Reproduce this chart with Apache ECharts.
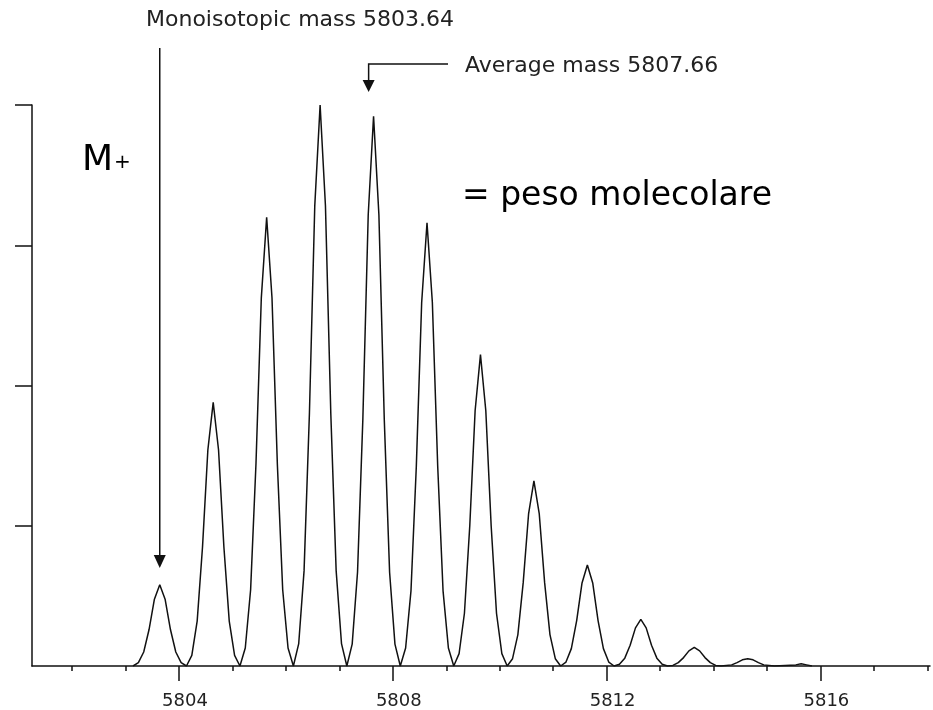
<!DOCTYPE html>
<html>
<head>
<meta charset="utf-8">
<script src="https://cdn.jsdelivr.net/npm/echarts@6/dist/echarts.min.js"></script>
<style>
  html, body { margin: 0; padding: 0; background: #fff; }
  #chart { width: 933px; height: 710px; }
</style>
</head>
<body>
<div id="chart"></div>
<script>
// isotope profile, [m/z, relative intensity %], one peak per line
const spectrum = [
  [5803.14, 0], [5803.24, 0.6], [5803.34, 2.5], [5803.44, 6.5], [5803.54, 11.9], [5803.64, 14.5], [5803.74, 11.9], [5803.84, 6.5], [5803.94, 2.5], [5804.04, 0.6],
  [5804.14, 0], [5804.24, 1.9], [5804.34, 8.0], [5804.44, 21.2], [5804.54, 38.5], [5804.64, 47], [5804.74, 38.5], [5804.84, 21.2], [5804.94, 8.0], [5805.04, 1.9],
  [5805.14, 0], [5805.24, 3.2], [5805.34, 13.6], [5805.44, 36], [5805.54, 65.6], [5805.64, 80], [5805.74, 65.6], [5805.84, 36], [5805.94, 13.6], [5806.04, 3.2],
  [5806.14, 0], [5806.24, 4], [5806.34, 17], [5806.44, 45], [5806.54, 82], [5806.64, 100], [5806.74, 82], [5806.84, 45], [5806.94, 17], [5807.04, 4],
  [5807.14, 0], [5807.24, 3.9], [5807.34, 16.7], [5807.44, 44.1], [5807.54, 80.4], [5807.64, 98], [5807.74, 80.4], [5807.84, 44.1], [5807.94, 16.7], [5808.04, 3.9],
  [5808.14, 0], [5808.24, 3.2], [5808.34, 13.4], [5808.44, 35.6], [5808.54, 64.8], [5808.64, 79], [5808.74, 64.8], [5808.84, 35.6], [5808.94, 13.4], [5809.04, 3.2],
  [5809.14, 0], [5809.24, 2.2], [5809.34, 9.4], [5809.44, 25], [5809.54, 45.5], [5809.64, 55.5], [5809.74, 45.5], [5809.84, 25], [5809.94, 9.4], [5810.04, 2.2],
  [5810.14, 0], [5810.24, 1.3], [5810.34, 5.6], [5810.44, 14.9], [5810.54, 27.1], [5810.64, 33], [5810.74, 27.1], [5810.84, 14.9], [5810.94, 5.6], [5811.04, 1.3],
  [5811.14, 0], [5811.24, 0.7], [5811.34, 3.1], [5811.44, 8.1], [5811.54, 14.8], [5811.64, 18], [5811.74, 14.8], [5811.84, 8.1], [5811.94, 3.1], [5812.04, 0.7],
  [5812.14, 0], [5812.24, 0.3], [5812.34, 1.4], [5812.44, 3.7], [5812.54, 6.8], [5812.64, 8.3], [5812.74, 6.8], [5812.84, 3.7], [5812.94, 1.4], [5813.04, 0.3],
  [5813.14, 0], [5813.24, 0.1], [5813.34, 0.6], [5813.44, 1.5], [5813.54, 2.7], [5813.64, 3.3], [5813.74, 2.7], [5813.84, 1.5], [5813.94, 0.6], [5814.04, 0.1],
  [5814.14, 0], [5814.34, 0.2], [5814.44, 0.6], [5814.54, 1.1], [5814.64, 1.3], [5814.74, 1.1], [5814.84, 0.6], [5814.94, 0.2],
  [5815.14, 0], [5815.54, 0.2], [5815.64, 0.4], [5815.74, 0.2], [5815.84, 0]
];

const minorTicks = [5802, 5803, 5804, 5805, 5806, 5807, 5808, 5809, 5810, 5811, 5812, 5813, 5814, 5815, 5816, 5817, 5818];
const majorTicks = [5804, 5808, 5812, 5816];
const yTicks = [25, 50, 75, 100];

const monoMass = 5803.64;
const avgMass = 5807.66;

const font = "'DejaVu Sans', sans-serif";

const chart = echarts.init(document.getElementById('chart'));

chart.setOption({
  animation: false,
  grid: { left: 32, right: 3, top: 105, bottom: 43 },
  xAxis: [
    {
      type: 'value',
      min: 5801.25,
      max: 5818.05,
      axisLine: { lineStyle: { color: '#111', width: 1.5 } },
      axisTick: { show: true, customValues: minorTicks, length: 5, lineStyle: { color: '#111', width: 1.5 } },
      axisLabel: { show: false },
      splitLine: { show: false }
    },
    {
      type: 'value',
      position: 'bottom',
      min: 5801.25,
      max: 5818.05,
      axisLine: { show: false },
      axisTick: { show: true, customValues: majorTicks, length: 15, lineStyle: { color: '#111', width: 1.5 } },
      axisLabel: {
        customValues: majorTicks,
        formatter: (v) => String(v),
        margin: 26,
        fontFamily: font,
        fontSize: 18,
        color: '#222',
        padding: [0, 0, 0, 12]
      },
      splitLine: { show: false }
    }
  ],
  yAxis: {
    type: 'value',
    min: 0,
    max: 100,
    axisLine: { show: true, lineStyle: { color: '#111', width: 1.5 } },
    axisTick: { show: true, customValues: yTicks, length: 17, lineStyle: { color: '#111', width: 1.5 } },
    axisLabel: { show: false },
    splitLine: { show: false }
  },
  series: [{
    type: 'line',
    data: spectrum,
    showSymbol: false,
    lineStyle: { color: '#111', width: 1.5 },
    silent: true
  }]
});

// arrows and notes, x placed from the masses
const mx = chart.convertToPixel({ xAxisIndex: 0 }, monoMass);
const ax = chart.convertToPixel({ xAxisIndex: 0 }, avgMass) - 6;

chart.setOption({
  graphic: [
    { type: 'text', left: 146, top: 9, style: { text: 'Monoisotopic mass 5803.64', font: '22px ' + font, fill: '#222' } },
    { type: 'line', shape: { x1: mx, y1: 48, x2: mx, y2: 556 }, style: { stroke: '#111', lineWidth: 1.5 } },
    { type: 'polygon', shape: { points: [[mx - 6, 555], [mx + 6, 555], [mx, 568]] }, style: { fill: '#111' } },
    { type: 'polyline', shape: { points: [[448, 64], [ax, 64], [ax, 82]] }, style: { stroke: '#111', lineWidth: 1.5, fill: null } },
    { type: 'polygon', shape: { points: [[ax - 6, 80], [ax + 6, 80], [ax, 92]] }, style: { fill: '#111' } },
    { type: 'text', left: 465, top: 55, style: { text: 'Average mass 5807.66', font: '22px ' + font, fill: '#222' } },
    { type: 'text', left: 82, top: 143, style: { text: 'M', font: '36px ' + font, fill: '#000' } },
    { type: 'text', left: 114, top: 153, style: { text: '+', font: '20px ' + font, fill: '#000' } },
    { type: 'text', left: 462, top: 180, style: { text: '= peso molecolare', font: '33px ' + font, fill: '#000' } }
  ]
});
</script>
</body>
</html>
